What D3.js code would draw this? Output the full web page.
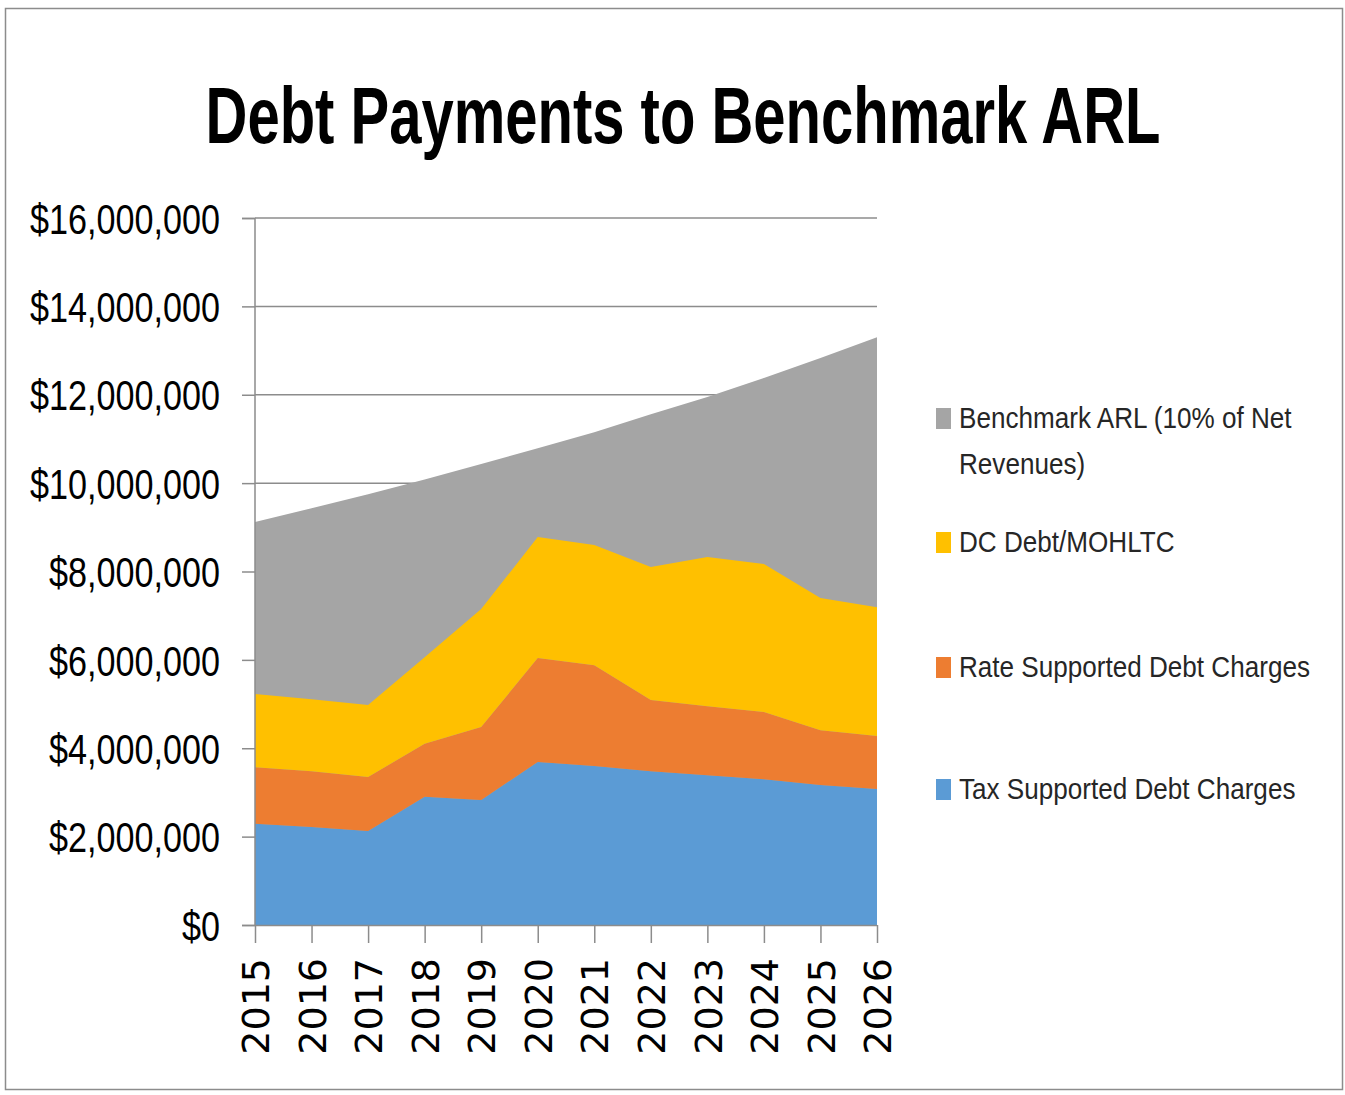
<!DOCTYPE html>
<html>
<head>
<meta charset="utf-8">
<script src="https://cdn.jsdelivr.net/npm/d3@7"></script>
<style>
html,body{margin:0;padding:0;background:#fff;}
svg{display:block;}
</style>
</head>
<body>
<svg id="chart" width="1345" height="1095"></svg>
<script>
const years = [2015,2016,2017,2018,2019,2020,2021,2022,2023,2024,2025,2026];
const taxSupported  = [2.29,2.22,2.13,2.90,2.83,3.69,3.60,3.48,3.39,3.30,3.17,3.08].map(v=>v*1e6);
const rateSupported = [1.28,1.26,1.22,1.20,1.65,2.35,2.28,1.61,1.56,1.52,1.24,1.20].map(v=>v*1e6);
const dcDebt        = [1.66,1.63,1.63,1.96,2.67,2.74,2.72,3.01,3.38,3.35,2.99,2.91].map(v=>v*1e6);
const benchmarkARL  = [9.12,9.43,9.75,10.08,10.43,10.79,11.15,11.56,11.95,12.38,12.83,13.30].map(v=>v*1e6);
const yTicks = [0,2e6,4e6,6e6,8e6,10e6,12e6,14e6,16e6];
const legendLabels = [["Benchmark ARL (10% of Net","Revenues)"],["DC Debt/MOHLTC"],["Rate Supported Debt Charges"],["Tax Supported Debt Charges"]];
const colors = {tax:"#5B9BD5", rate:"#ED7D31", dc:"#FFC000", arl:"#A5A5A5"};

const svg = d3.select("#chart");
const font = "'Liberation Sans Narrow','Liberation Sans',Arial,sans-serif";

// outer border
svg.append("rect").attr("x",5.5).attr("y",8.5).attr("width",1337).attr("height",1081)
  .attr("fill","none").attr("stroke","#8c8c8c").attr("stroke-width",1.5);

// title (horizontally condensed via scale)
const title = svg.append("text").attr("x",0).attr("y",0).attr("text-anchor","middle")
  .attr("font-family",font).attr("font-weight","bold").attr("font-size",80)
  .attr("fill","#000").text("Debt Payments to Benchmark ARL");
{
  const f = 955/title.node().getComputedTextLength();
  title.attr("transform",`translate(683,143) scale(${f},1)`);
}

const x = d3.scalePoint().domain(years).range([255,877]);
const y = d3.scaleLinear().domain([0,16e6]).range([925,218]);

// gridlines
svg.append("g").selectAll("line").data(yTicks.filter(d=>d>0)).join("line")
  .attr("x1",255).attr("x2",877).attr("y1",d=>y(d)).attr("y2",d=>y(d))
  .attr("stroke","#8c8c8c").attr("stroke-width",1.5);

const rows = years.map((yr,i)=>({year:yr, tax:taxSupported[i], rate:rateSupported[i], dc:dcDebt[i], arl:benchmarkARL[i]}));

// ARL area (behind)
const arlArea = d3.area().x(d=>x(d.year)).y0(y(0)).y1(d=>y(d.arl));
svg.append("path").datum(rows).attr("d",arlArea).attr("fill",colors.arl);

// stacked
const stacked = d3.stack().keys(["tax","rate","dc"])(rows);
const area = d3.area().x(d=>x(d.data.year)).y0(d=>y(d[0])).y1(d=>y(d[1]));
svg.append("g").selectAll("path").data(stacked).join("path")
  .attr("d",area).attr("fill",d=>colors[d.key]);

// y axis
const yAxis = d3.axisLeft(y).tickValues(yTicks).tickSize(13).tickPadding(22)
  .tickFormat(d=>"$"+d3.format(",")(d));
const gy = svg.append("g").attr("transform","translate(255,0)").call(yAxis);
gy.select(".domain").attr("stroke","#8c8c8c").attr("stroke-width",1.5).attr("d","M-13,218.5H0V925.5H-13");
gy.selectAll(".tick line").attr("stroke","#8c8c8c").attr("stroke-width",1.5);
const yt = gy.selectAll(".tick text").attr("font-family",font).attr("font-size",42).attr("fill","#000")
  .attr("dy","0.36em");
{
  const big = yt.nodes().find(n=>n.textContent==="$16,000,000");
  const f = 190/big.getComputedTextLength();
  yt.attr("x",0).attr("transform",`translate(-35,0) scale(${f},1)`);
}

// x axis
const xAxis = d3.axisBottom(x).tickSize(18).tickPadding(0);
const gx = svg.append("g").attr("transform","translate(0,925)").call(xAxis);
gx.select(".domain").attr("stroke","#8c8c8c").attr("stroke-width",1.5).attr("d","M255,0.5H877");
gx.selectAll(".tick line").attr("stroke","#8c8c8c").attr("stroke-width",1.5);
gx.selectAll(".tick text")
  .attr("font-family","'DejaVu Sans',Verdana,sans-serif").attr("font-size",38).attr("fill","#000")
  .attr("transform","rotate(-90)").attr("text-anchor","end")
  .attr("x",-33).attr("y",0).attr("dy","0.36em");

// legend
const legendItems = [
  {key:"arl", y:408, lines:legendLabels[0]},
  {key:"dc", y:532, lines:legendLabels[1]},
  {key:"rate", y:657, lines:legendLabels[2]},
  {key:"tax", y:779, lines:legendLabels[3]}
];
const lg = svg.append("g");
legendItems.forEach(it=>{
  lg.append("rect").attr("x",936).attr("y",it.y).attr("width",15).attr("height",21).attr("fill",colors[it.key]);
  it.lines.forEach((ln,j)=>{
    lg.append("text").attr("class","lt").datum({x:959, y:it.y+20+j*46})
      .attr("x",0).attr("y",0)
      .attr("font-family",font).attr("font-size",30).attr("fill","#262626").text(ln);
  });
});
{
  const lt = lg.selectAll(".lt");
  const ref = lt.nodes().find(n=>n.textContent==="Rate Supported Debt Charges");
  const f = 351/ref.getComputedTextLength();
  lt.attr("transform",d=>`translate(${d.x},${d.y}) scale(${f},1)`);
}
</script>
</body>
</html>
